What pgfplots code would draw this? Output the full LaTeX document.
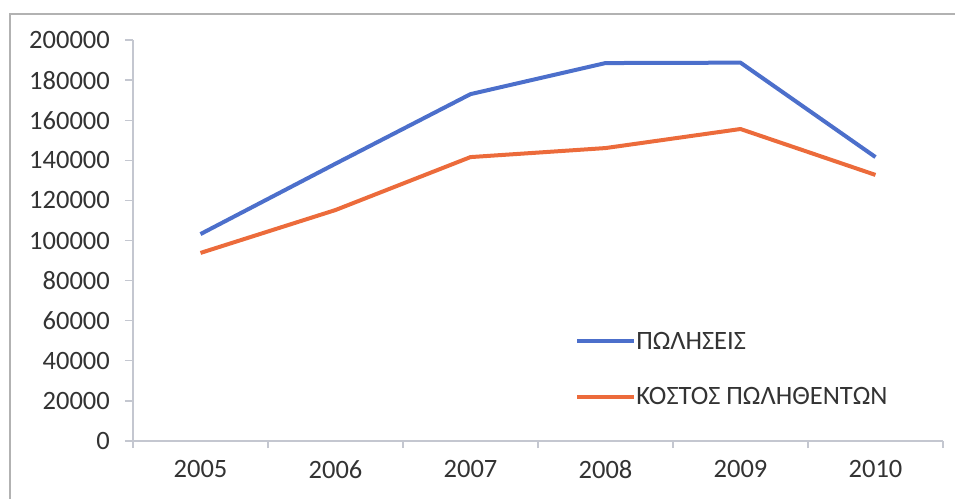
\documentclass[border=0pt]{standalone}
\usepackage{pgfplots}
\pgfplotsset{compat=1.18}
\usepackage{fontspec}
\setmainfont{Carlito}
\definecolor{sblue}{HTML}{4C6FCB}
\definecolor{sorange}{HTML}{EC6B3B}
\definecolor{txt}{HTML}{333333}
\definecolor{axgray}{HTML}{C4C7D0}
\begin{document}
\begin{tikzpicture}[x=1pt,y=1pt]
\useasboundingbox (0,0) rectangle (955,498);
\draw[gray!60, line width=2pt] (10,-20) -- (10,484) -- (980,484);
\begin{axis}[
  at={(133pt,57pt)}, anchor=south west,
  scale only axis, width=810pt, height=401pt,
  xmin=-0.5, xmax=5.5, ymin=0, ymax=200000,
  axis x line*=bottom, axis y line*=left,
  axis line style={axgray, line width=1.2pt, -},
  xtick={0,...,5}, xticklabels={2005,2006,2007,2008,2009,2010},
  minor xtick={-0.5,0.5,...,5.5},
  ytick={0,20000,...,200000},
  scaled y ticks=false,
  /pgf/number format/.cd, fixed, 1000 sep={}, assume math mode=true, /pgfplots/.cd,
  tick align=outside,
  major tick length=8pt, minor tick length=7pt,
  tick style={axgray, line width=1.2pt},
  major x tick style={draw=none},
  every tick label/.append style={font=\fontsize{26.5}{30}\selectfont, text=txt},
  x tick label style={inner sep=0pt, yshift=-11pt},
  y tick label style={inner sep=0pt, xshift=-15pt},
  legend style={at={(axis description cs:0.5458,0.179)}, anchor=west, draw=none, fill=none,
    font=\fontsize{26.5}{30}\selectfont, text=txt, row sep=37pt, inner sep=0pt,
    nodes={inner sep=0pt}},
  legend cell align=left,
  legend image code/.code={\draw[#1, line width=4pt] (0pt,0pt) -- (57pt,0pt);},
]
\addplot[sblue, line width=4pt, line join=round] coordinates {
 (0,103200) (1,138300) (2,173000) (3,188500) (4,188700) (5,141600)};
\addlegendentry{ΠΩΛΗΣΕΙΣ}
\addplot[sorange, line width=4pt, line join=round] coordinates {
 (0,93800) (1,115200) (2,141600) (3,146100) (4,155600) (5,132700)};
\addlegendentry{ΚΟΣΤΟΣ ΠΩΛΗΘΕΝΤΩΝ}
\end{axis}
\end{tikzpicture}
\end{document}
